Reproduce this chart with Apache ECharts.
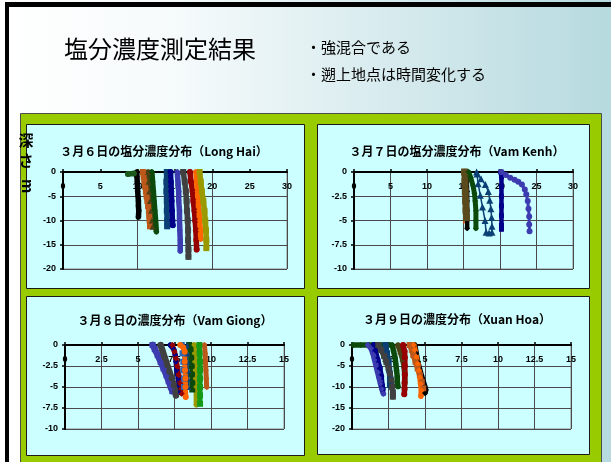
<!DOCTYPE html>
<html>
<head>
<meta charset="utf-8">
<script src="https://cdn.jsdelivr.net/npm/echarts/dist/echarts.min.js"></script>
<style>
  html, body { margin: 0; padding: 0; background: #ffffff; }
  #chart { width: 611px; height: 462px; }
</style>
</head>
<body>
<div id="chart"></div>
<script>
// ---- Salinity profiles: each profile is a list of [salinity, depth (m)] pairs ----

// 3月6日 Long Hai
const longHaiProfiles = [
  [[9.9,0],[9.9,-1],[9.95,-2],[10.0,-3],[10.0,-4],[10.05,-5],[10.1,-6],[10.1,-7],[10.15,-8],[10.1,-9.3]],
  [[10.7,0],[10.8,-1],[10.9,-2],[11.0,-3],[11.1,-4],[11.2,-5],[11.3,-6],[11.4,-7],[11.5,-8],[11.55,-9],[11.6,-10],[11.65,-11.2]],
  [[11.4,0],[11.45,-2],[11.55,-4],[11.65,-6],[11.8,-8],[11.9,-10],[12.0,-11.3]],
  [[11.9,0],[12.0,-2],[12.1,-4],[12.2,-6],[12.3,-8],[12.4,-10],[12.5,-12.3]],
  [[13.9,0],[13.85,-2],[13.85,-4],[13.9,-6],[13.9,-8],[13.95,-10],[13.95,-11.2]],
  [[14.4,0],[14.45,-2],[14.5,-4],[14.55,-6],[14.6,-8],[14.65,-10],[14.7,-11.0]],
  [[15.3,0],[15.4,-2],[15.5,-4],[15.5,-6],[15.6,-8],[15.6,-10],[15.65,-12],[15.7,-14],[15.7,-16.3]],
  [[16.1,0],[16.3,-2],[16.45,-4],[16.55,-6],[16.6,-8],[16.7,-10],[16.75,-12],[16.75,-14],[16.8,-16],[16.8,-17.5]],
  [[17.0,0],[17.15,-2],[17.35,-4],[17.45,-6],[17.6,-8],[17.7,-10],[17.8,-12],[17.85,-14],[17.9,-16.0]],
  [[17.8,0],[17.9,-2],[18.0,-4],[18.1,-6],[18.2,-8],[18.3,-10],[18.4,-12],[18.45,-13.8]],
  [[18.3,0],[18.45,-2],[18.6,-4],[18.8,-6],[18.95,-8],[19.05,-10],[19.15,-12],[19.2,-14],[19.2,-15.7]],
  [[8.7,-0.4],[9.5,-0.3]]
];

// 3月7日 Vam Kenh
const vamKenhProfiles = [
  [[15.45,0],[15.45,-1],[15.5,-2],[15.5,-3],[15.5,-4],[15.5,-5],[15.5,-5.8]],
  [[15.0,0],[15.0,-1],[15.0,-2],[15.02,-3],[15.03,-4],[15.05,-5.2]],
  [[15.15,0],[15.2,-1],[15.25,-2],[15.3,-3],[15.35,-4],[15.4,-4.7]],
  [[15.7,0],[16.0,-0.6],[16.3,-1.4],[16.5,-2.2],[16.6,-3.0],[16.7,-4.0],[16.7,-5.0],[16.7,-5.8]],
  [[16.8,0],[17.4,-0.7],[18.0,-1.3],[18.4,-2.0],[18.6,-2.9],[18.75,-3.8],[18.85,-4.7],[18.9,-5.6],[18.9,-6.2],[18.5,-6.3],[18.1,-6.2],[17.95,-5.0],[17.6,-3.6],[17.3,-2.4],[17.0,-1.2],[16.85,-0.2]],
  [[20.1,0],[20.2,-0.5],[20.2,-1.5],[20.2,-2.5],[20.2,-3.5],[20.2,-4.5],[20.2,-5.5],[20.2,-5.9]],
  [[20.2,0],[20.8,-0.3],[21.4,-0.6],[22.0,-0.8],[22.5,-1.0],[23.0,-1.3],[23.4,-1.8],[23.6,-2.3],[23.8,-3.0],[23.9,-3.8],[24.0,-4.6],[24.0,-5.4],[24.05,-6.1]]
];

// 3月8日 Vam Giong
const vamGiongProfiles = [
  [[9.55,0],[9.6,-1],[9.62,-2],[9.65,-3],[9.68,-4],[9.7,-5.0]],
  [[8.5,0],[8.6,-0.5],[8.65,-1.5],[8.68,-2.5],[8.7,-3.5],[8.72,-4.5],[8.72,-5.3]],
  [[8.35,0],[8.38,-1],[8.4,-2],[8.42,-3],[8.43,-4],[8.45,-5.0]],
  [[7.2,0],[7.45,-0.5],[7.55,-1.2],[7.6,-2.0],[7.65,-3.0],[7.75,-4.0],[7.8,-4.8],[7.85,-5.6]],
  [[6.0,0],[6.15,-0.5],[6.35,-1.2],[6.55,-2.0],[6.75,-2.8],[6.95,-3.6],[7.1,-4.3],[7.25,-5.0],[7.35,-5.5]],
  [[6.55,0],[6.7,-0.8],[6.85,-1.6],[7.0,-2.4],[7.15,-3.2],[7.3,-4.0],[7.45,-4.8],[7.55,-5.5],[7.6,-6.0]],
  [[7.35,0],[7.5,-0.8],[7.6,-1.6],[7.7,-2.6],[7.8,-3.6],[7.9,-4.6],[7.95,-5.2],[8.0,-5.8]],
  [[8.0,0],[8.05,-1],[8.1,-2],[8.1,-3],[8.15,-4],[8.15,-5]],
  [[7.9,0],[8.1,-0.3],[8.2,-0.8],[8.2,-2],[8.22,-3],[8.25,-4],[8.25,-5],[8.27,-6.2]],
  [[8.85,0],[8.9,-1],[8.92,-2],[8.95,-3],[8.97,-4],[9.0,-5],[9.0,-6],[9.0,-7.1]],
  [[9.2,0],[9.22,-1],[9.25,-2],[9.25,-3],[9.25,-4],[9.25,-5],[9.25,-6],[9.25,-7.0]]
];

// 3月9日 Xuan Hoa
const xuanHoaProfiles = [
  [[4.3,0],[4.4,-2],[4.5,-4],[4.62,-5.6],[4.75,-7.2],[4.88,-8.7],[4.98,-9.8],[5.05,-10.7],[5.0,-11.4]],
  [[3.95,0],[4.1,-1.2],[4.2,-2.4],[4.35,-4.0],[4.5,-5.6],[4.65,-7.2],[4.78,-8.8],[4.88,-10.3]],
  [[3.15,0],[3.3,-1.5],[3.45,-3.2],[3.55,-4.8],[3.6,-6.5],[3.62,-8.7]],
  [[0.1,0],[0.6,0],[1.2,0],[1.8,0],[2.3,0],[2.75,0],[2.85,-1.5],[2.95,-3],[3.0,-4.5],[3.05,-6],[3.1,-7.5],[3.1,-8.8],[3.15,-9.9]],
  [[2.3,0],[2.4,-2],[2.5,-4],[2.55,-6],[2.6,-8],[2.6,-9.5]],
  [[1.5,0],[1.6,-1.5],[1.75,-3.5],[1.9,-5.5],[2.0,-7.5],[2.05,-9.5],[2.1,-10.5]],
  [[1.1,0],[1.3,-0.8],[1.45,-2.2],[1.55,-3.6],[1.65,-5.0],[1.75,-6.4],[1.85,-7.8],[1.95,-9.2],[2.05,-10.5],[2.15,-11.6]],
  [[1.8,0],[2.0,-1.2],[2.2,-2.6],[2.35,-4.0],[2.5,-5.4],[2.6,-6.8],[2.7,-8.4],[2.75,-10],[2.8,-11.3],[2.8,-12.3]],
  [[3.5,0],[3.6,-1.5],[3.62,-3],[3.62,-5],[3.62,-7],[3.6,-9],[3.6,-10.5],[3.58,-11.7]],
  [[4.25,0],[4.3,-1.2],[4.4,-2.8],[4.5,-4.4],[4.58,-6.0],[4.65,-7.6],[4.7,-9.2],[4.75,-10.8],[4.72,-12.2]]
];

// ---- Tick labels ----
const longHaiSalinityTicks = [0, 5, 10, 15, 20, 25, 30];
const longHaiDepthTicks = [0, -5, -10, -15, -20];
const vamKenhSalinityTicks = [0, 5, 10, 15, 20, 25, 30];
const vamKenhDepthTicks = [0, -2.5, -5, -7.5, -10];
const vamGiongSalinityTicks = [0, 2.5, 5, 7.5, 10, 12.5, 15];
const vamGiongDepthTicks = [0, -2.5, -5, -7.5, -10];
const xuanHoaSalinityTicks = [0, 2.5, 5, 7.5, 10, 12.5, 15];
const xuanHoaDepthTicks = [0, -5, -10, -15, -20];

// ---- Text ----
const pageTitle = '塩分濃度測定結果';
const bulletLines = ['・強混合である', '・遡上地点は時間変化する'];
const chartTitles = [
  '３月６日の塩分濃度分布（Long Hai）',
  '３月７日の塩分濃度分布（Vam Kenh）',
  '３月８日の濃度分布（Vam Giong）',
  '３月９日の濃度分布（Xuan Hoa）'
];

// ---- Styles ----
const PAL = {
  black: '#000000', brown: '#bc581a', olive: '#4a4216', darkGreen: '#0b4a0b',
  darkTeal: '#0b4076', navy: '#000088', indigo: '#3c3cb0', gray: '#404040',
  darkRed: '#960000', orange: '#ff6600', darkYellow: '#999900', green: '#169a16',
  blue: '#2c64b8', surfGreen: '#1c5a1c', brownLine: '#d04a08'
};
const longHaiColors = [PAL.black, PAL.brown, PAL.olive, PAL.darkGreen, PAL.darkTeal, PAL.navy,
  PAL.indigo, PAL.gray, PAL.darkRed, PAL.orange, PAL.darkYellow, PAL.surfGreen];
const vamKenhColors = [PAL.black, PAL.brownLine, '#5a4a1c', PAL.darkGreen, PAL.darkTeal, PAL.navy, PAL.indigo];
const vamGiongColors = [PAL.brown, PAL.darkGreen, PAL.darkTeal, PAL.navy, PAL.indigo, PAL.gray,
  PAL.darkRed, PAL.blue, PAL.orange, PAL.darkYellow, PAL.green];
const xuanHoaColors = [PAL.black, PAL.brown, PAL.olive, PAL.darkGreen, PAL.darkTeal, PAL.navy,
  PAL.indigo, PAL.gray, PAL.darkRed, PAL.orange];

const SYMBOLS = ['diamond', 'rect', 'triangle', 'diamond', 'rect', 'circle', 'diamond', 'rect', 'circle', 'diamond', 'rect', 'circle'];

const panels = [
  { profiles: longHaiProfiles, colors: longHaiColors, xt: longHaiSalinityTicks, yt: longHaiDepthTicks,
    grid: { left: 63, top: 172, width: 224, height: 97 }, lw: 5.5, sym: 6, minorX: 10,
    widths: null, titlePos: [164, 151] },
  { profiles: vamKenhProfiles, colors: vamKenhColors, xt: vamKenhSalinityTicks, yt: vamKenhDepthTicks,
    grid: { left: 354, top: 172, width: 219, height: 97 }, lw: 4, sym: 5,
    widths: [4.5, 1.5, 6.5, 5, 1.5, 4.5, 3],
    syms: [6, 2, 7, 6, 7, 5, 6],
    shapes: ['diamond', 'circle', 'rect', 'diamond', 'triangle', 'rect', 'circle'],
    titlePos: [457, 151] },
  { profiles: vamGiongProfiles, colors: vamGiongColors, xt: vamGiongSalinityTicks, yt: vamGiongDepthTicks,
    grid: { left: 65, top: 345, width: 219, height: 84 }, lw: 5, sym: 6,
    widths: [5, 5, 2, 5, 6.5, 6.5, 5, 1.5, 5, 5.5, 5], titlePos: [175, 320] },
  { profiles: xuanHoaProfiles, colors: xuanHoaColors, xt: xuanHoaSalinityTicks, yt: xuanHoaDepthTicks,
    grid: { left: 352, top: 345, width: 219, height: 84 }, lw: 5.5, sym: 6,
    widths: null, titlePos: [457, 319] }
];

const tickFont = { color: '#000', fontSize: 9, fontWeight: 'bold', fontFamily: 'Liberation Sans' };

const grids = [], xAxes = [], yAxes = [], series = [];

panels.forEach((p, gi) => {
  grids.push(Object.assign({ show: true, borderColor: '#8a8a8a', borderWidth: 1,
    backgroundColor: 'transparent', containLabel: false }, p.grid));

  const xi = xAxes.length;
  xAxes.push({
    gridIndex: gi, type: 'value', position: 'top',
    min: p.xt[0], max: p.xt[p.xt.length - 1], interval: p.xt[1] - p.xt[0],
    axisLine: { show: true, onZero: false, lineStyle: { color: '#000', width: 2 } },
    axisTick: { show: true, length: 3, lineStyle: { color: '#000', width: 1.5 } },
    axisLabel: Object.assign({ inside: true, margin: 10, showMinLabel: true, showMaxLabel: true }, tickFont),
    splitLine: { show: !p.minorX, lineStyle: { color: '#4a4a4a', width: 1 } }
  });
  if (p.minorX) {
    // gridlines only every second labelled value
    xAxes.push({
      gridIndex: gi, type: 'value', position: 'bottom',
      min: p.xt[0], max: p.xt[p.xt.length - 1], interval: p.minorX,
      axisLine: { show: false }, axisTick: { show: false }, axisLabel: { show: false },
      splitLine: { show: true, lineStyle: { color: '#4a4a4a', width: 1 } }
    });
  }
  const yi = yAxes.length;
  yAxes.push({
    gridIndex: gi, type: 'value',
    min: p.yt[p.yt.length - 1], max: p.yt[0], interval: Math.abs(p.yt[1] - p.yt[0]),
    axisLine: { show: true, onZero: false, lineStyle: { color: '#000', width: 2 } },
    axisTick: { show: true, length: 3, lineStyle: { color: '#000', width: 1.5 } },
    axisLabel: Object.assign({ margin: 7 }, tickFont),
    splitLine: { show: true, lineStyle: { color: '#4a4a4a', width: 1 } }
  });

  p.profiles.forEach((prof, i) => {
    const c = p.colors[i];
    series.push({
      type: 'line', xAxisIndex: xi, yAxisIndex: yi, data: prof,
      symbol: p.shapes ? p.shapes[i] : SYMBOLS[i % SYMBOLS.length],
      symbolSize: p.syms ? p.syms[i] : p.sym,
      showSymbol: true, clip: false, silent: true, animation: false,
      lineStyle: { color: c, width: p.widths ? p.widths[i] : p.lw, join: 'round', cap: 'round' },
      itemStyle: { color: c, borderWidth: 0 },
      z: 3
    });
  });
});

const CJK = '"Noto Sans CJK JP"';
const graphics = [
  { type: 'rect', z: -20, shape: { x: 0, y: 0, width: 611, height: 462 },
    style: { fill: { type: 'linear', x: 0, y: 0, x2: 1, y2: 0,
      colorStops: [{ offset: 0, color: '#ffffff' }, { offset: 0.3, color: '#f5fafb' }, { offset: 1, color: '#b6dadf' }] } } },
  { type: 'rect', z: -19, shape: { x: 5, y: 2, width: 606, height: 5 }, style: { fill: '#000' } },
  { type: 'rect', z: -19, shape: { x: 5, y: 2, width: 4, height: 460 }, style: { fill: '#000' } },
  { type: 'rect', z: -18, shape: { x: 20.5, y: 113.5, width: 581, height: 360 },
    style: { fill: '#99cc00', stroke: '#4d4d4d', lineWidth: 1 } },
  { type: 'rect', z: -17, shape: { x: 26.5, y: 124.5, width: 278, height: 164 }, style: { fill: '#ccffff', stroke: '#1a1a1a', lineWidth: 1 } },
  { type: 'rect', z: -17, shape: { x: 317.5, y: 124.5, width: 272, height: 164 }, style: { fill: '#ccffff', stroke: '#1a1a1a', lineWidth: 1 } },
  { type: 'rect', z: -17, shape: { x: 26.5, y: 296.5, width: 278, height: 159 }, style: { fill: '#ccffff', stroke: '#1a1a1a', lineWidth: 1 } },
  { type: 'rect', z: -17, shape: { x: 317.5, y: 296.5, width: 272, height: 158 }, style: { fill: '#ccffff', stroke: '#1a1a1a', lineWidth: 1 } },
  { type: 'text', z: 10, style: { text: pageTitle, x: 160, y: 49, fill: '#000', font: '24px ' + CJK,
    textAlign: 'center', align: 'center', textVerticalAlign: 'middle', verticalAlign: 'middle' } },
  { type: 'text', z: 10, style: { text: bulletLines[0], x: 306, y: 47, fill: '#000', font: '15px ' + CJK,
    textAlign: 'left', align: 'left', textVerticalAlign: 'middle', verticalAlign: 'middle' } },
  { type: 'text', z: 10, style: { text: bulletLines[1], x: 306, y: 74, fill: '#000', font: '15px ' + CJK,
    textAlign: 'left', align: 'left', textVerticalAlign: 'middle', verticalAlign: 'middle' } },
  { type: 'text', z: 10, style: { text: '深', x: 26, y: 140, fill: '#000', font: 'bold 15px ' + CJK,
    textAlign: 'center', align: 'center', textVerticalAlign: 'middle', verticalAlign: 'middle' } },
  { type: 'text', z: 10, style: { text: 'さ', x: 26, y: 160, fill: '#000', font: 'bold 15px ' + CJK,
    textAlign: 'center', align: 'center', textVerticalAlign: 'middle', verticalAlign: 'middle' } },
  { type: 'text', z: 10, x: 26, y: 186, rotation: -Math.PI / 2,
    style: { text: 'm', x: 0, y: 0, fill: '#000', font: 'bold 16px "Liberation Sans"',
      textAlign: 'center', align: 'center', textVerticalAlign: 'middle', verticalAlign: 'middle' } }
];
panels.forEach((p, i) => {
  graphics.push({ type: 'text', z: 10, style: { text: chartTitles[i], x: p.titlePos[0], y: p.titlePos[1],
    fill: '#000', font: 'bold 12px ' + CJK,
    textAlign: 'center', align: 'center', textVerticalAlign: 'middle', verticalAlign: 'middle' } });
});

const chart = echarts.init(document.getElementById('chart'), null, { renderer: 'canvas' });
chart.setOption({
  animation: false,
  backgroundColor: 'transparent',
  graphic: { elements: graphics },
  grid: grids,
  xAxis: xAxes,
  yAxis: yAxes,
  series: series
});
</script>
</body>
</html>
